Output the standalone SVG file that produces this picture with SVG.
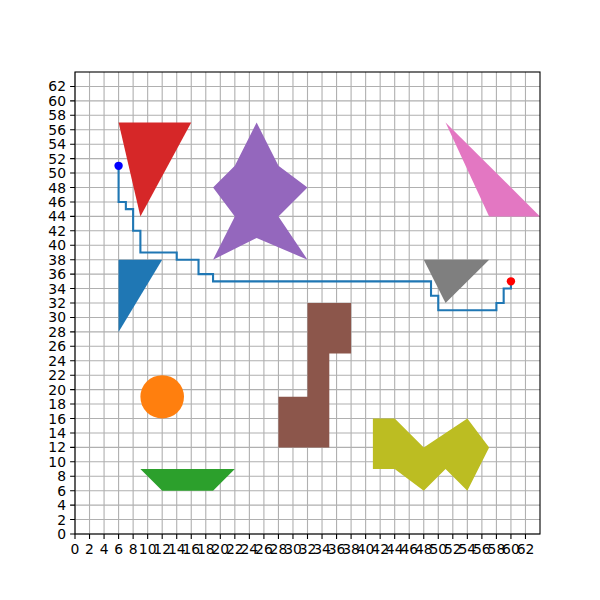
<svg xmlns="http://www.w3.org/2000/svg" width="600" height="600" viewBox="0 0 600 600">
<style>
.grid{stroke:#b0b0b0;stroke-width:1.1;fill:none}
.tick{stroke:#000;stroke-width:1.1;fill:none}
.spine{stroke:#000;stroke-width:1.1;fill:none}
.lbl{font-family:"DejaVu Sans",sans-serif;font-size:13.9px;fill:#000}
.xl{text-anchor:middle}
.yl{text-anchor:end}
.route{stroke:#1f77b4;stroke-width:2.1;fill:none;stroke-linejoin:miter;stroke-linecap:square}
</style>
<rect width="600" height="600" fill="#fff"/>
<g id="grid">
<path class="grid" d="M75 72V534M89.53 72V534M104.06 72V534M118.59 72V534M133.13 72V534M147.66 72V534M162.19 72V534M176.72 72V534M191.25 72V534M205.78 72V534M220.31 72V534M234.84 72V534M249.38 72V534M263.91 72V534M278.44 72V534M292.97 72V534M307.5 72V534M322.03 72V534M336.56 72V534M351.09 72V534M365.63 72V534M380.16 72V534M394.69 72V534M409.22 72V534M423.75 72V534M438.28 72V534M452.81 72V534M467.34 72V534M481.88 72V534M496.41 72V534M510.94 72V534M525.47 72V534
M75 534H540M75 519.56H540M75 505.13H540M75 490.69H540M75 476.25H540M75 461.81H540M75 447.38H540M75 432.94H540M75 418.5H540M75 404.06H540M75 389.63H540M75 375.19H540M75 360.75H540M75 346.31H540M75 331.88H540M75 317.44H540M75 303H540M75 288.56H540M75 274.13H540M75 259.69H540M75 245.25H540M75 230.81H540M75 216.38H540M75 201.94H540M75 187.5H540M75 173.06H540M75 158.63H540M75 144.19H540M75 129.75H540M75 115.31H540M75 100.88H540M75 86.44H540"/>
</g>
<g id="shapes">
<g id="red-triangle"><polygon fill="#d62728" points="118.59,122.53 191.25,122.53 140.39,216.38"/></g>
<g id="purple-star"><polygon fill="#9467bd" points="256.64,122.53 278.44,165.84 307.5,187.5 278.44,216.38 307.5,259.69 256.64,238.03 213.05,259.69 234.84,216.38 213.05,187.5 234.84,165.84"/></g>
<g id="pink-triangle"><polygon fill="#e377c2" points="445.55,122.53 489.14,216.38 540,216.38"/></g>
<g id="blue-triangle"><polygon fill="#1f77b4" points="118.59,259.69 162.19,259.69 118.59,331.88"/></g>
<g id="gray-triangle"><polygon fill="#7f7f7f" points="423.75,259.69 489.14,259.69 445.55,303"/></g>
<g id="brown-shape"><polygon fill="#8c564b" points="307.5,303 351.09,303 351.09,353.53 329.3,353.53 329.3,447.38 278.44,447.38 278.44,396.84 307.5,396.84"/></g>
<g id="orange-circle"><ellipse fill="#ff7f0e" cx="162.19" cy="396.84" rx="21.8" ry="21.66"/></g>
<g id="green-trapezoid"><polygon fill="#2ca02c" points="140.39,469.03 234.84,469.03 213.05,490.69 162.19,490.69"/></g>
<g id="olive-shape"><polygon fill="#bcbd22" points="372.89,418.5 394.69,418.5 423.75,447.38 467.34,418.5 489.14,447.38 467.34,490.69 445.55,469.03 423.75,490.69 394.69,469.03 372.89,469.03"/></g>
</g>
<g id="connectors">
<path class="route" d="M118.59 165.84V201.94H125.86V209.16H133.13V230.81H140.39V252.47H176.72V259.69H198.52V274.13H213.05V281.34H431.02V295.78H438.28V310.22H496.41V303H503.67V288.56H510.94V281.34"/>
</g>
<g id="start"><circle cx="118.59" cy="165.84" r="4.2" fill="#0000ff"/></g>
<g id="goal"><circle cx="510.94" cy="281.34" r="4.2" fill="#ff0000"/></g>
<g id="axes">
<rect class="spine" x="75" y="72" width="465" height="462"/>
<path class="tick" d="M75 534v4.9M89.53 534v4.9M104.06 534v4.9M118.59 534v4.9M133.13 534v4.9M147.66 534v4.9M162.19 534v4.9M176.72 534v4.9M191.25 534v4.9M205.78 534v4.9M220.31 534v4.9M234.84 534v4.9M249.38 534v4.9M263.91 534v4.9M278.44 534v4.9M292.97 534v4.9M307.5 534v4.9M322.03 534v4.9M336.56 534v4.9M351.09 534v4.9M365.63 534v4.9M380.16 534v4.9M394.69 534v4.9M409.22 534v4.9M423.75 534v4.9M438.28 534v4.9M452.81 534v4.9M467.34 534v4.9M481.88 534v4.9M496.41 534v4.9M510.94 534v4.9M525.47 534v4.9
M75 534h-4.9M75 519.56h-4.9M75 505.13h-4.9M75 490.69h-4.9M75 476.25h-4.9M75 461.81h-4.9M75 447.38h-4.9M75 432.94h-4.9M75 418.5h-4.9M75 404.06h-4.9M75 389.63h-4.9M75 375.19h-4.9M75 360.75h-4.9M75 346.31h-4.9M75 331.88h-4.9M75 317.44h-4.9M75 303h-4.9M75 288.56h-4.9M75 274.13h-4.9M75 259.69h-4.9M75 245.25h-4.9M75 230.81h-4.9M75 216.38h-4.9M75 201.94h-4.9M75 187.5h-4.9M75 173.06h-4.9M75 158.63h-4.9M75 144.19h-4.9M75 129.75h-4.9M75 115.31h-4.9M75 100.88h-4.9M75 86.44h-4.9"/>
<g class="lbl xl">
<text x="75" y="554">0</text><text x="89.53" y="554">2</text><text x="104.06" y="554">4</text><text x="118.59" y="554">6</text><text x="133.13" y="554">8</text><text x="147.66" y="554">10</text><text x="162.19" y="554">12</text><text x="176.72" y="554">14</text><text x="191.25" y="554">16</text><text x="205.78" y="554">18</text><text x="220.31" y="554">20</text><text x="234.84" y="554">22</text><text x="249.38" y="554">24</text><text x="263.91" y="554">26</text><text x="278.44" y="554">28</text><text x="292.97" y="554">30</text><text x="307.5" y="554">32</text><text x="322.03" y="554">34</text><text x="336.56" y="554">36</text><text x="351.09" y="554">38</text><text x="365.63" y="554">40</text><text x="380.16" y="554">42</text><text x="394.69" y="554">44</text><text x="409.22" y="554">46</text><text x="423.75" y="554">48</text><text x="438.28" y="554">50</text><text x="452.81" y="554">52</text><text x="467.34" y="554">54</text><text x="481.88" y="554">56</text><text x="496.41" y="554">58</text><text x="510.94" y="554">60</text><text x="525.47" y="554">62</text>
</g>
<g class="lbl yl">
<text x="66" y="539">0</text><text x="66" y="524.56">2</text><text x="66" y="510.13">4</text><text x="66" y="495.69">6</text><text x="66" y="481.25">8</text><text x="66" y="466.81">10</text><text x="66" y="452.38">12</text><text x="66" y="437.94">14</text><text x="66" y="423.5">16</text><text x="66" y="409.06">18</text><text x="66" y="394.63">20</text><text x="66" y="380.19">22</text><text x="66" y="365.75">24</text><text x="66" y="351.31">26</text><text x="66" y="336.88">28</text><text x="66" y="322.44">30</text><text x="66" y="308">32</text><text x="66" y="293.56">34</text><text x="66" y="279.13">36</text><text x="66" y="264.69">38</text><text x="66" y="250.25">40</text><text x="66" y="235.81">42</text><text x="66" y="221.38">44</text><text x="66" y="206.94">46</text><text x="66" y="192.5">48</text><text x="66" y="178.06">50</text><text x="66" y="163.63">52</text><text x="66" y="149.19">54</text><text x="66" y="134.75">56</text><text x="66" y="120.31">58</text><text x="66" y="105.88">60</text><text x="66" y="91.44">62</text>
</g>
</g>
</svg>
